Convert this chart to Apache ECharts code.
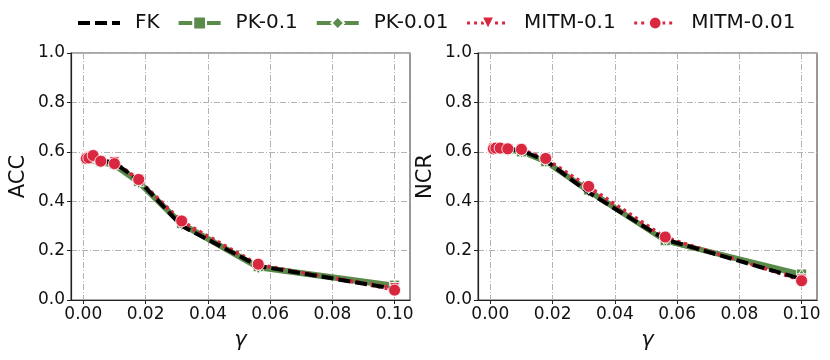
<!DOCTYPE html>
<html lang="en">
  <head>
    <meta charset="UTF-8" />
    <script src="https://cdn.jsdelivr.net/npm/echarts@6/dist/echarts.min.js"></script>
    <title>ACC / NCR vs gamma</title>
    <style>
      body { margin: 0; background: #fff; }
      #container { width: 830px; height: 360px; }
    </style>
  </head>
  <body>
    <div id="container"></div>

    <script>
      const chart = echarts.init(document.getElementById("container"));

      // gamma values (log spaced 1e-3 .. 1e-1)
      const gammas = [0.001, 0.00178, 0.00316, 0.00562, 0.01, 0.0178, 0.0316, 0.0562, 0.1];
      const xTicks = [0, 0.02, 0.04, 0.06, 0.08, 0.1];
      const seriesNames = ["FK", "PK-0.1", "PK-0.01", "MITM-0.1", "MITM-0.01"];

      // left panel: ACC
      const accFK = [0.575, 0.578, 0.575, 0.565, 0.555, 0.485, 0.3, 0.138, 0.045];
      const accPK1 = [0.57, 0.575, 0.57, 0.56, 0.55, 0.48, 0.31, 0.135, 0.06];
      const accPK01 = [0.57, 0.57, 0.57, 0.555, 0.545, 0.475, 0.305, 0.13, 0.055];
      const accMITM1 = [0.575, 0.58, 0.575, 0.565, 0.56, 0.49, 0.31, 0.14, 0.05];
      const accMITM01 = [0.573, 0.575, 0.585, 0.562, 0.552, 0.488, 0.32, 0.145, 0.04];

      // right panel: NCR
      const ncrFK = [0.615, 0.615, 0.615, 0.612, 0.605, 0.565, 0.435, 0.245, 0.085];
      const ncrPK1 = [0.61, 0.61, 0.61, 0.61, 0.6, 0.56, 0.445, 0.24, 0.105];
      const ncrPK01 = [0.61, 0.61, 0.61, 0.605, 0.6, 0.56, 0.44, 0.24, 0.1];
      const ncrMITM1 = [0.615, 0.612, 0.615, 0.61, 0.61, 0.57, 0.45, 0.25, 0.085];
      const ncrMITM01 = [0.612, 0.615, 0.615, 0.612, 0.61, 0.573, 0.46, 0.255, 0.078];

      const GREEN = "#5b8b4b";
      const RED = "#d9273f";
      const FONT = "DejaVu Sans";

      const pairs = (ys) => gammas.map((g, i) => [g, ys[i]]);

      const gridLine = { show: true, lineStyle: { color: "#b3b3b3", width: 1, type: [6, 2, 1, 2] } };

      function xAxis(idx) {
        return {
          type: "value",
          gridIndex: idx,
          min: -0.00395,
          max: 0.10495,
          name: "γ",
          nameLocation: "middle",
          nameGap: 30,
          nameTextStyle: { fontFamily: FONT, fontStyle: "italic", fontSize: 21, color: "#111" },
          axisLine: { show: true, onZero: false, lineStyle: { color: "#222", width: 1.2 } },
          axisTick: { show: true, length: 4, customValues: xTicks, lineStyle: { color: "#222" } },
          axisLabel: {
            customValues: xTicks,
            formatter: (v) => v.toFixed(2),
            fontFamily: FONT, fontSize: 17, color: "#111", margin: 6,
          },
          splitLine: gridLine,
        };
      }

      function yAxis(idx, name) {
        return {
          type: "value",
          gridIndex: idx,
          min: 0,
          max: 1,
          interval: 0.2,
          name: name,
          nameLocation: "middle",
          nameGap: 42,
          nameTextStyle: { fontFamily: FONT, fontSize: 21, color: "#111" },
          axisLine: { show: true, onZero: false, lineStyle: { color: "#222", width: 1.2 } },
          axisTick: { show: true, length: 4, lineStyle: { color: "#222" } },
          axisLabel: { formatter: (v) => v.toFixed(1), fontFamily: FONT, fontSize: 17, color: "#111", margin: 6 },
          splitLine: gridLine,
        };
      }

      function panel(idx, fk, pk1, pk01, m1, m01) {
        const base = { type: "line", xAxisIndex: idx, yAxisIndex: idx, animation: false, showSymbol: true };
        return [
          {
            ...base, name: "PK-0.1", data: pairs(pk1), z: 2,
            lineStyle: { color: GREEN, width: 5 },
            symbol: "rect", symbolSize: 10,
            itemStyle: { color: GREEN, borderColor: "#fff", borderWidth: 0.8 },
          },
          {
            ...base, name: "PK-0.01", data: pairs(pk01), z: 2,
            lineStyle: { color: GREEN, width: 5 },
            symbol: "diamond", symbolSize: [7, 12],
            itemStyle: { color: GREEN, borderColor: "#fff", borderWidth: 0.8 },
          },
          {
            ...base, name: "MITM-0.1", data: pairs(m1), z: 3,
            lineStyle: { color: RED, width: 3, type: [3, 4] },
            symbol: "triangle", symbolRotate: 180, symbolSize: 10,
            itemStyle: { color: RED, borderColor: "#fff", borderWidth: 0.8 },
          },
          {
            ...base, name: "MITM-0.01", data: pairs(m01), z: 3,
            lineStyle: { color: RED, width: 3, type: [3, 4] },
            symbol: "circle", symbolSize: 12,
            itemStyle: { color: RED, borderColor: "#fff", borderWidth: 0.8 },
          },
          {
            ...base, name: "FK", data: pairs(fk), z: 4, symbol: "none",
            lineStyle: { color: "#000", width: 4, type: [12, 5], opacity: 1 },
            itemStyle: { color: "#000", opacity: 0 },
          },
          // red markers drawn above the black dashed line
          {
            type: "scatter", name: "m1pts", xAxisIndex: idx, yAxisIndex: idx, z: 5, animation: false,
            data: pairs(m1), symbol: "triangle", symbolRotate: 180, symbolSize: 10,
            itemStyle: { color: RED, borderColor: "#fff", borderWidth: 0.8, opacity: 1 },
          },
          {
            type: "scatter", name: "m01pts", xAxisIndex: idx, yAxisIndex: idx, z: 5, animation: false,
            data: pairs(m01), symbol: "circle", symbolSize: 12,
            itemStyle: { color: RED, borderColor: "#fff", borderWidth: 0.8, opacity: 1 },
          },
        ];
      }

      const legendWidths = [4, 4, 4, 3, 3];

      const option = {
        backgroundColor: "#fff",
        legend: {
          data: seriesNames.map((n, i) => ({ name: n, lineStyle: { width: legendWidths[i] } })),
          top: 8,
          left: 71,
          itemWidth: 42,
          itemHeight: 16,
          itemGap: 17,
          textStyle: { fontFamily: FONT, fontSize: 20, color: "#111", padding: [0, 0, 0, 10] },
        },
        grid: [
          { left: 71, top: 53, width: 339, height: 247, show: true, borderColor: "#555", borderWidth: 1.2 },
          { left: 478, top: 53, width: 339, height: 247, show: true, borderColor: "#555", borderWidth: 1.2 },
        ],
        xAxis: [xAxis(0), xAxis(1)],
        yAxis: [yAxis(0, "ACC"), yAxis(1, "NCR")],
        series: [
          ...panel(0, accFK, accPK1, accPK01, accMITM1, accMITM01),
          ...panel(1, ncrFK, ncrPK1, ncrPK01, ncrMITM1, ncrMITM01),
        ],
      };

      chart.setOption(option);
    </script>
  </body>
</html>
